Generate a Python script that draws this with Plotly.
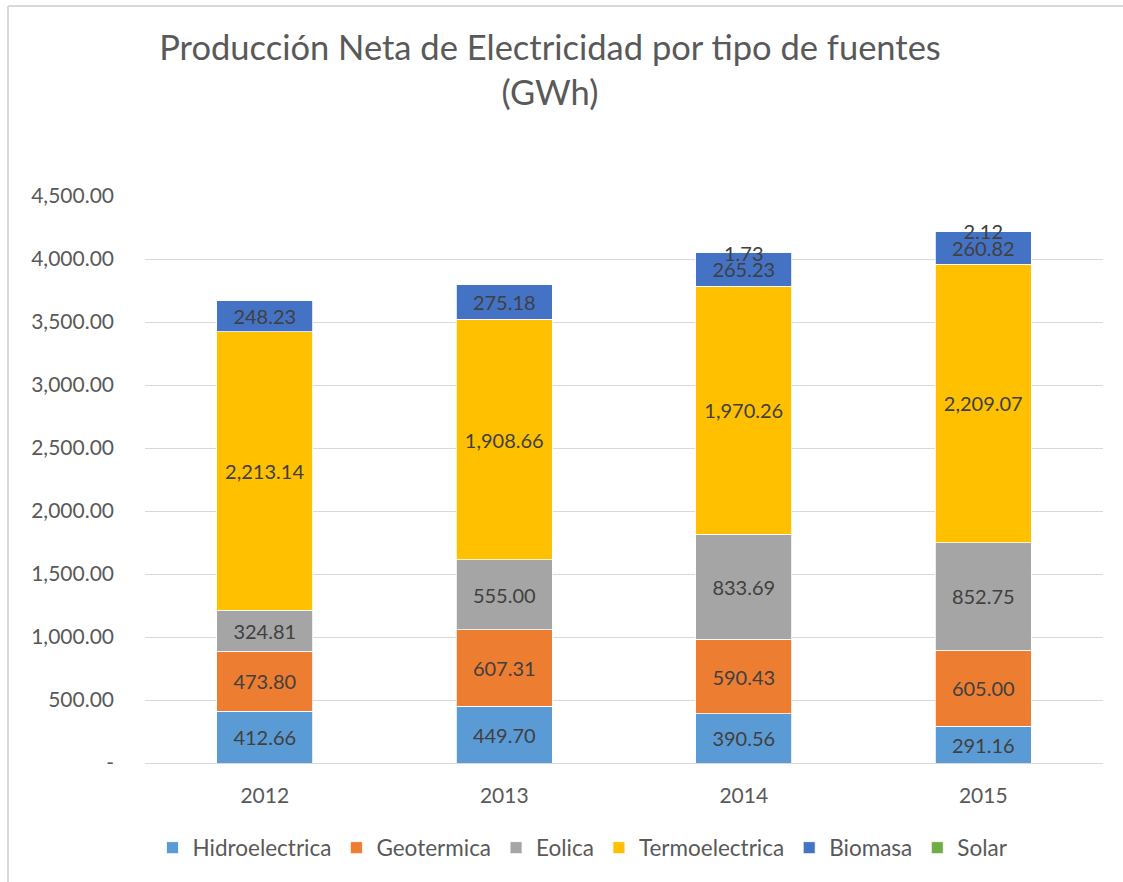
import plotly.graph_objects as go

years = ["2012", "2013", "2014", "2015"]
hidro = [412.66, 449.70, 390.56, 291.16]
geo = [473.80, 607.31, 590.43, 605.00]
eolica = [324.81, 555.00, 833.69, 852.75]
termo = [2213.14, 1908.66, 1970.26, 2209.07]
biomasa = [248.23, 275.18, 265.23, 260.82]
solar = [0.0, 0.0, 1.73, 2.12]

series = [
    ("Hidroelectrica", hidro, "#5B9BD5"),
    ("Geotermica", geo, "#ED7D31"),
    ("Eolica", eolica, "#A5A5A5"),
    ("Termoelectrica", termo, "#FFC000"),
    ("Biomasa", biomasa, "#4472C4"),
    ("Solar", solar, "#70AD47"),
]

tick_vals = [0, 500, 1000, 1500, 2000, 2500, 3000, 3500, 4000, 4500]
tick_text = ["-"] + [f"{v:,.2f}" for v in tick_vals[1:]]

FONT = "Lato"
W, H = 1123, 882
L, R, T, B = 145, 20, 196, 119

fig = go.Figure()
for name, vals, color in series:
    texts = [f"{v:,.2f}" if v > 0 else "" for v in vals]
    fig.add_trace(go.Bar(
        name=name, x=years, y=vals, marker=dict(color=color, line=dict(color="white", width=0.8)),
        text=texts, textposition="inside", insidetextanchor="middle",
        constraintext="none", textangle=0, cliponaxis=False,
        textfont=dict(family=FONT, size=20, color="#404040"),
        hoverinfo="x+y+name",
    ))

def px_x(p):
    return (p - L) / (W - L - R)

def px_y(p):
    return (H - B - p) / (H - T - B)

fig.update_layout(
    width=W, height=H,
    margin=dict(l=L, r=R, t=T, b=B),
    barmode="stack", bargap=0.6,
    paper_bgcolor="white", plot_bgcolor="white",
    font=dict(family=FONT, color="#595959"),
    title=dict(text="Producción Neta de Electricidad por tipo de fuentes<br>(GWh)",
               x=550 / W, xanchor="center", xref="container",
               y=1 - 60 / H, yanchor="top", yref="container",
               font=dict(family=FONT, size=34.5, color="#595959")),
    xaxis=dict(type="category", showline=True, linecolor="#D9D9D9", linewidth=1,
               ticks="", ticklabelstandoff=14,
               tickfont=dict(family=FONT, size=21, color="#595959")),
    yaxis=dict(range=[0, 4500], tickvals=tick_vals, ticktext=tick_text,
               showgrid=True, gridcolor="#D9D9D9", gridwidth=1, zeroline=False,
               ticks="", ticklabelstandoff=30,
               tickfont=dict(family=FONT, size=21, color="#595959")),
    legend=dict(orientation="h", xref="container", yref="container",
                x=583 / W, xanchor="center", y=1 - 848 / H, yanchor="middle",
                font=dict(family=FONT, size=22.5, color="#595959"),
                traceorder="normal", itemwidth=30),
    showlegend=True,
    shapes=[
        dict(type="line", xref="paper", yref="paper", x0=px_x(8), x1=px_x(8), y0=px_y(6), y1=px_y(882),
             line=dict(color="#D9D9D9", width=2)),
        dict(type="line", xref="paper", yref="paper", x0=px_x(8), x1=px_x(1123), y0=px_y(6), y1=px_y(6),
             line=dict(color="#D9D9D9", width=2)),
    ],
)

fig.write_html("out.html", config={"displayModeBar": False},
               post_script="document.body.style.margin='0px';document.body.style.overflow='hidden';")
